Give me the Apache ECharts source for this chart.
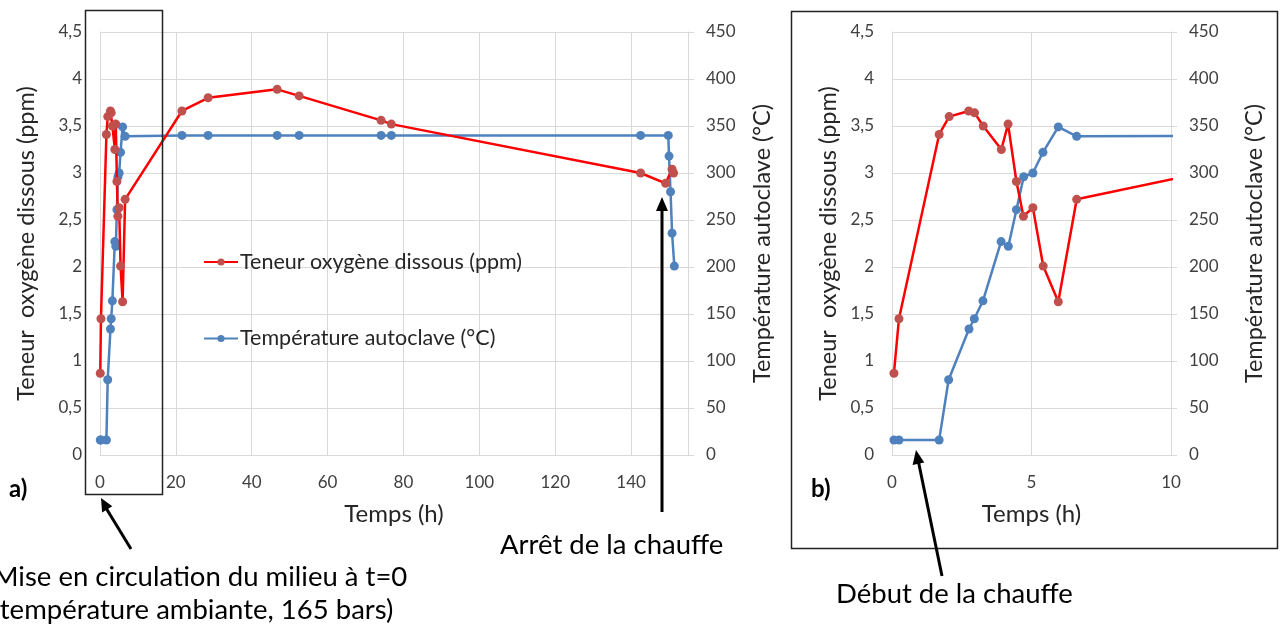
<!DOCTYPE html>
<html><head><meta charset="utf-8">
<script src="https://cdn.jsdelivr.net/npm/echarts@6/dist/echarts.min.js"></script>
<style>html,body{margin:0;padding:0;background:#fff}#c{width:1280px;height:628px}</style>
</head><body><div id="c"></div>
<script>
// Dissolved oxygen (ppm) vs time (h)
const timeO2 = [0.07, 0.25, 1.69, 2.05, 2.75, 2.96, 3.27, 3.92, 4.16, 4.46, 4.71, 5.05, 5.42, 5.96, 6.62, 21.6, 28.5, 46.7, 52.5, 74.1, 76.8, 142.5, 149.1, 150.8, 151.2];
const o2 =     [0.87, 1.45, 3.41, 3.60, 3.66, 3.64, 3.50, 3.25, 3.52, 2.91, 2.54, 2.63, 2.01, 1.63, 2.72, 3.66, 3.80, 3.89, 3.82, 3.56, 3.52, 3.00, 2.89, 3.04, 3.00];
// Autoclave temperature (°C) vs time (h)
const timeT = [0.07, 0.25, 1.69, 2.03, 2.76, 2.95, 3.26, 3.91, 4.17, 4.46, 4.72, 5.05, 5.41, 5.96, 6.62, 21.6, 28.5, 46.7, 52.5, 74.1, 76.8, 142.5, 149.8, 150.0, 150.4, 150.8, 151.4];
const temp =  [16, 16, 16, 80, 134, 145, 164, 227, 222, 261, 296, 300, 322, 349, 339, 340, 340, 340, 340, 340, 340, 340, 340, 318, 280, 236, 201];

const nameO2 = 'Teneur oxygène dissous (ppm)';
const nameT = 'Température autoclave (°C)';
const axisTitleLeft = 'Teneur  oxygène dissous (ppm)';
const axisTitleRight = 'Température autoclave (°C)';
const xTitle = 'Temps (h)';

const FONT = 'Lato';
const o2Data = timeO2.map((t, i) => [t, o2[i]]);
const tData = timeT.map((t, i) => [t, temp[i]]);

const grid = '#D9D9D9';
const lblStyle = {color: '#404040', fontFamily: FONT, fontSize: 17};
const nameStyle = {color: '#262626', fontFamily: FONT, fontSize: 23.5};

function xAx(gi, max, interval, gap) {
  return {type: 'value', gridIndex: gi, min: 0, max: max, interval: interval,
    name: xTitle, nameLocation: 'middle', nameGap: gap, nameTextStyle: Object.assign({}, nameStyle, {fontSize: 24}),
    axisLine: {show: true, lineStyle: {color: grid, width: 1}}, axisTick: {show: false},
    axisLabel: Object.assign({margin: 19, formatter: v => (v % interval === 0 ? String(v) : '')}, lblStyle),
    splitLine: {show: true, lineStyle: {color: grid, width: 1}}};
}
function yLeft(gi, gap) {
  return {type: 'value', gridIndex: gi, position: 'left', min: 0, max: 4.5, interval: 0.5,
    name: axisTitleLeft, nameLocation: 'middle', nameGap: gap, nameRotate: 90, nameTextStyle: nameStyle,
    axisLine: {show: true, lineStyle: {color: grid}}, axisTick: {show: false},
    axisLabel: Object.assign({margin: 18, formatter: v => String(v).replace('.', ',')}, lblStyle),
    splitLine: {show: true, lineStyle: {color: grid, width: 1}}};
}
function yRight(gi, gap) {
  return {type: 'value', gridIndex: gi, position: 'right', min: 0, max: 450, interval: 50,
    name: axisTitleRight, nameLocation: 'middle', nameGap: gap, nameRotate: 90, nameTextStyle: nameStyle,
    axisLine: {show: true, lineStyle: {color: grid}}, axisTick: {show: true, length: 6, lineStyle: {color: grid}},
    axisLabel: Object.assign({margin: 18}, lblStyle),
    splitLine: {show: false}};
}
function serO2(xi, yi) {
  return {name: nameO2, type: 'line', xAxisIndex: xi, yAxisIndex: yi, data: o2Data,
    symbol: 'circle', symbolSize: 9, lineStyle: {color: '#FF0000', width: 2.5},
    itemStyle: {color: '#C0504D'}, clip: true, z: 3};
}
function serT(xi, yi) {
  return {name: nameT, type: 'line', xAxisIndex: xi, yAxisIndex: yi, data: tData,
    symbol: 'circle', symbolSize: 9, lineStyle: {color: '#4F81BD', width: 2.5},
    itemStyle: {color: '#4F81BD'}, clip: true, z: 2};
}

const black = '#000';
const option = {
  animation: false,
  backgroundColor: '#fff',
  textStyle: {fontFamily: FONT},
  grid: [
    {left: 100, right: 592, top: 32, bottom: 173},
    {left: 892, right: 109, top: 32, bottom: 173}
  ],
  xAxis: [xAx(0, 155, 20, 47), xAx(1, 10, 5, 47)],
  yAxis: [yLeft(0, 62), yRight(0, 62), yLeft(1, 52), yRight(1, 71)],
  legend: {left: 198, top: 246, orient: 'vertical', itemGap: 54.5, itemWidth: 34, itemHeight: 9,
    textStyle: {color: '#262626', fontFamily: FONT, fontSize: 21.5, padding: [0, 0, 0, -3]},
    data: [nameO2, nameT], selectedMode: false},
  series: [serO2(0, 0), serT(0, 1), serO2(1, 2), serT(1, 3)],
  graphic: [
    {type: 'rect', shape: {x: 85.5, y: 10.5, width: 77, height: 484}, style: {fill: 'none', stroke: '#222', lineWidth: 1.5}, z: 10},
    {type: 'rect', shape: {x: 791.5, y: 11.5, width: 486, height: 537}, style: {fill: 'none', stroke: '#222', lineWidth: 1.5}, z: 10},
    {type: 'text', left: 9, top: 477, style: {text: 'a)', font: 'bold 24px Lato', fill: black}},
    {type: 'text', left: 811, top: 477, style: {text: 'b)', font: 'bold 24px Lato', fill: black}},
    {type: 'text', left: -7, top: 561, style: {text: 'Mise en circulation du milieu à t=0\n(température ambiante, 165 bars)', font: '27.5px Lato', fill: black, lineHeight: 33}},
    {type: 'text', left: 500, top: 531, style: {text: 'Arrêt de la chauffe', font: '27.5px Lato', fill: black}},
    {type: 'text', left: 836, top: 580, style: {text: 'Début de la chauffe', font: '27.5px Lato', fill: black}},
    // arrows
    {type: 'line', shape: {x1: 131, y1: 549, x2: 106, y2: 508}, style: {stroke: black, lineWidth: 3}, z: 10},
    {type: 'polygon', shape: {points: [[101, 498], [112.3, 506.2], [102.1, 512.4]]}, style: {fill: black}, z: 10},
    {type: 'line', shape: {x1: 662, y1: 512, x2: 662, y2: 208}, style: {stroke: black, lineWidth: 3}, z: 10},
    {type: 'polygon', shape: {points: [[662, 197], [668, 211], [656, 211]]}, style: {fill: black}, z: 10},
    {type: 'line', shape: {x1: 942, y1: 576, x2: 918.5, y2: 462}, style: {stroke: black, lineWidth: 3}, z: 10},
    {type: 'polygon', shape: {points: [[916, 450], [924.3, 462.5], [912.6, 465]]}, style: {fill: black}, z: 10}
  ]
};
const chart = echarts.init(document.getElementById('c'), null, {renderer: 'canvas'});
chart.setOption(option);
</script></body></html>
